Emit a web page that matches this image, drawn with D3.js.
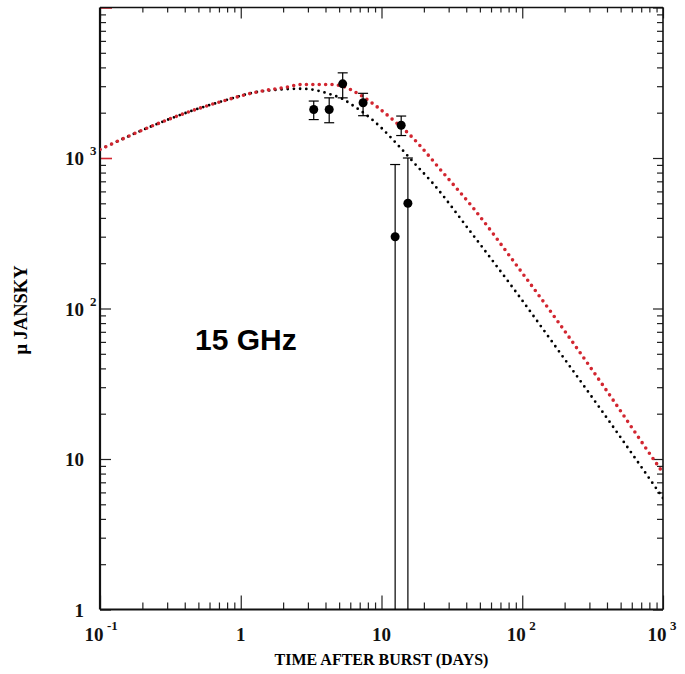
<!DOCTYPE html>
<html>
<head>
<meta charset="utf-8">
<script src="https://cdn.jsdelivr.net/npm/d3@7"></script>
<style>
  body { margin: 0; background: #fff; }
  text { font-family: "Liberation Serif", "Times New Roman", serif; font-weight: bold; }
</style>
</head>
<body>
<div id="chart"></div>
<script>
// model curves (days, micro-Jansky)
const redDays = [0.1, 0.249, 0.43, 0.741, 1.28, 2.1, 2.74, 4.27, 5.27, 6.97, 9.17, 12.0, 15.8, 20.8, 25.0, 44.7, 92.9, 177, 368, 927, 1000];
const redFlux = [1140, 1670, 2030, 2385, 2737, 2954, 3080, 3080, 3000, 2640, 2210, 1800, 1433, 1083, 882, 467, 189, 83.2, 31.6, 8.96, 8.1];
const blackDays = [0.1, 0.249, 0.43, 0.741, 1.28, 1.8, 2.47, 2.75, 4.39, 5.27, 6.22, 7.57, 9.95, 13.1, 17.2, 23.0, 43.5, 91.8, 175, 366, 917, 1000];
const blackFlux = [1140, 1670, 2030, 2385, 2737, 2840, 2884, 2884, 2640, 2473, 2243, 1976, 1588, 1217, 919, 684, 318, 126, 54.8, 21.0, 6.18, 5.5];

// observations: value with upper / lower error limits (0 = below plot)
const obsDays = [3.3, 4.25, 5.3, 7.4, 13.8, 12.5, 15.4];
const obsFlux = [2100, 2100, 3110, 2330, 1650, 300, 500];
const obsHi = [2390, 2510, 3680, 2690, 1900, 905, 1000];
const obsLo = [1800, 1715, 2510, 1910, 1410, 0, 0];

// tick labels: [value, base, exponent]
const xLabels = [[0.1, "10", "-1"], [1, "1", ""], [10, "10", ""], [100, "10", "2"], [1000, "10", "3"]];
const yLabels = [[1, "1", ""], [10, "10", ""], [100, "10", "2"], [1000, "10", "3"]];

const width = 685, height = 674;
const m = { left: 100, right: 663, top: 7.5, bottom: 609.5 };

const svg = d3.select("#chart").append("svg")
  .attr("width", width)
  .attr("height", height);

const x = d3.scaleLog().domain([0.1, 1000]).range([m.left, m.right]);
const y = d3.scaleLog().domain([1, 10000]).range([m.bottom, m.top]);

const isMajor = v => Math.abs(Math.log10(v) - Math.round(Math.log10(v))) < 1e-9;
const xMajor = x.ticks().filter(isMajor), xMinor = x.ticks().filter(v => !isMajor(v));
const yMajor = y.ticks().filter(isMajor), yMinor = y.ticks().filter(v => !isMajor(v));

function drawTicks(axis, values, size, tx, ty) {
  const g = svg.append("g")
    .attr("transform", `translate(${tx},${ty})`)
    .call(axis.tickValues(values).tickSize(size).tickSizeOuter(0).tickFormat(""));
  g.select(".domain").remove();
  g.selectAll(".tick line").attr("stroke", "#222").attr("stroke-width", 1.2);
  return g;
}

drawTicks(d3.axisBottom(x), xMinor, -7, 0, m.bottom);
drawTicks(d3.axisBottom(x), xMajor, -14, 0, m.bottom);
drawTicks(d3.axisTop(x), xMinor, -5, 0, m.top);
drawTicks(d3.axisTop(x), xMajor, -11, 0, m.top);
drawTicks(d3.axisLeft(y), yMinor, -6, m.left, 0);
const leftMajor = drawTicks(d3.axisLeft(y), yMajor, -11, m.left, 0);
drawTicks(d3.axisRight(y), yMinor, -6, m.right, 0);
drawTicks(d3.axisRight(y), yMajor, -10, m.right, 0);

// the 10^3 and 10^4 marks on the left are red
leftMajor.selectAll(".tick line")
  .filter(d => d >= 1000)
  .attr("stroke", "#d22630")
  .attr("stroke-width", 1.6)
  .attr("x2", 12);

// frame
const frame = [
  [m.left, m.top, m.left, m.bottom, 2.2],
  [m.left, m.bottom, m.right, m.bottom, 1.8],
  [m.left, m.top, m.right, m.top, 1.5],
  [m.right, m.top, m.right, m.bottom, 1.6]
];
svg.selectAll(".frame").data(frame).enter().append("line")
  .attr("x1", d => d[0]).attr("y1", d => d[1])
  .attr("x2", d => d[2]).attr("y2", d => d[3])
  .attr("stroke", "#111").attr("stroke-width", d => d[4]);

// tick labels
const xl = svg.append("g").attr("font-size", 19).attr("fill", "#111");
xLabels.forEach(([v, base, exp]) => {
  const px = x(v);
  if (exp) {
    xl.append("text").attr("x", px - 6).attr("y", 641).attr("text-anchor", "middle").text(base);
    xl.append("text").attr("x", px + 7).attr("y", 630).attr("font-size", 13).text(exp);
  } else {
    xl.append("text").attr("x", px).attr("y", 641).attr("text-anchor", "middle").text(base);
  }
});

const yl = svg.append("g").attr("font-size", 19).attr("fill", "#111");
yLabels.forEach(([v, base, exp]) => {
  const py = y(v);
  yl.append("text").attr("x", 84).attr("y", py + 7).attr("text-anchor", "end").text(base);
  if (exp) yl.append("text").attr("x", 90).attr("y", py - 3).attr("font-size", 13).text(exp);
});

// axis titles
svg.append("text")
  .attr("x", (m.left + m.right) / 2).attr("y", 665)
  .attr("text-anchor", "middle").attr("font-size", 16)
  .text("TIME AFTER BURST (DAYS)");

svg.append("text")
  .attr("transform", "translate(27,310) rotate(-90)")
  .attr("text-anchor", "middle").attr("font-size", 18.5)
  .text("\u03bc JANSKY");

svg.append("text")
  .attr("x", 195).attr("y", 350)
  .style("font-family", "'Liberation Sans', Arial, sans-serif")
  .attr("font-size", 30)
  .text("15 GHz");

// model curves, dotted
svg.append("clipPath").attr("id", "plotClip")
  .append("rect")
  .attr("x", m.left).attr("y", m.top)
  .attr("width", m.right - m.left).attr("height", m.bottom - m.top);

const line = d3.line()
  .x(d => x(d[0]))
  .y(d => y(d[1]))
  .curve(d3.curveMonotoneX);

svg.append("path")
  .datum(blackDays.map((d, i) => [d, blackFlux[i]]))
  .attr("clip-path", "url(#plotClip)")
  .attr("d", line)
  .attr("fill", "none")
  .attr("stroke", "#000")
  .attr("stroke-width", 2.8)
  .attr("stroke-linecap", "round")
  .attr("stroke-dasharray", "0 6.2");

svg.append("path")
  .datum(redDays.map((d, i) => [d, redFlux[i]]))
  .attr("clip-path", "url(#plotClip)")
  .attr("d", line)
  .attr("fill", "none")
  .attr("stroke", "#d22630")
  .attr("stroke-width", 3.6)
  .attr("stroke-linecap", "round")
  .attr("stroke-dasharray", "0 6.4");

// observations with error bars
const obs = obsDays.map((d, i) => ({ t: d, f: obsFlux[i], hi: obsHi[i], lo: obsLo[i] }));
const pts = svg.append("g");
obs.forEach(o => {
  const px = x(o.t);
  const yLo = o.lo > 1 ? y(o.lo) : m.bottom;
  pts.append("line")
    .attr("x1", px).attr("x2", px)
    .attr("y1", y(o.hi)).attr("y2", yLo)
    .attr("stroke", "#000").attr("stroke-width", 1.2);
  pts.append("line")
    .attr("x1", px - 5).attr("x2", px + 5)
    .attr("y1", y(o.hi)).attr("y2", y(o.hi))
    .attr("stroke", "#000").attr("stroke-width", 1.2);
  if (o.lo > 1) {
    pts.append("line")
      .attr("x1", px - 5).attr("x2", px + 5)
      .attr("y1", yLo).attr("y2", yLo)
      .attr("stroke", "#000").attr("stroke-width", 1.2);
  }
  pts.append("circle")
    .attr("cx", px).attr("cy", y(o.f))
    .attr("r", 4.5)
    .attr("fill", "#000");
});
</script>
</body>
</html>
